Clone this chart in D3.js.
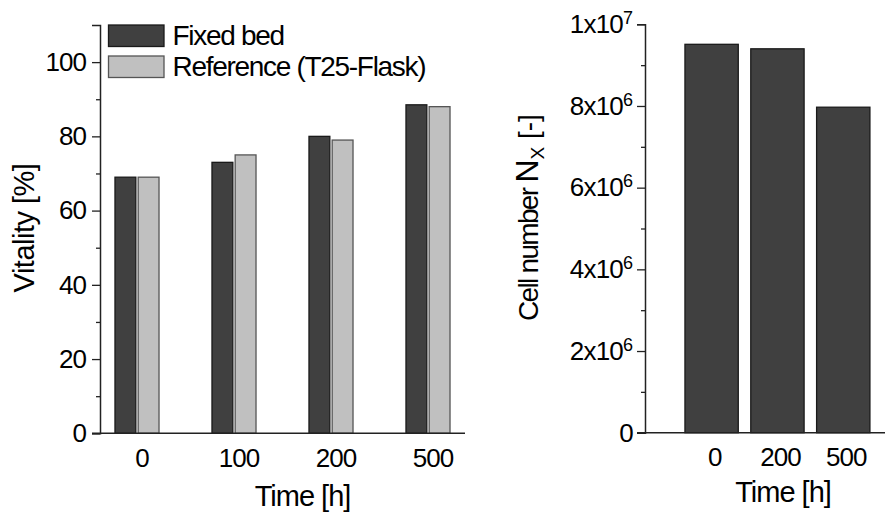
<!DOCTYPE html>
<html><head><meta charset="utf-8">
<script src="https://cdn.jsdelivr.net/npm/d3@7"></script>
<style>
body{margin:0;background:#fff;}
text{font-family:"Liberation Sans",Arial,sans-serif;fill:#000;}
</style></head>
<body>
<svg id="c" width="885" height="516"></svg>
<script>
// ---- data ----
const timeCats = ["0","100","200","500"];
const seriesNames = ["Fixed bed","Reference (T25-Flask)"];
const fixedBed = [69, 73, 80, 88.5];
const reference = [69, 75, 79, 88];
const vitalityTicks = [0,20,40,60,80,100];
const vitalityMinor = [10,30,50,70,90];

const cellCats = ["0","200","500"];
const cellNumber = [9.51e6, 9.40e6, 7.97e6];
const cellTicks = [0,2e6,4e6,6e6,8e6,1e7];
const cellTickLabels = [["0",""],["2x10","6"],["4x10","6"],["6x10","6"],["8x10","6"],["1x10","7"]];
const cellMinor = [1e6,3e6,5e6,7e6,9e6];

const colors = ["#404040","#c0c0c0"];
const strokes = ["#1a1a1a","#555555"];

const svg = d3.select("#c");
const axisColor = "#222";
const FF = "'Liberation Sans',Arial,sans-serif";

// ---- left chart ----
const yL = d3.scaleLinear().domain([0,110]).range([433.3,25]);
const xL = d3.scaleBand().domain(timeCats).range([88.5,476.5]).paddingInner(0.546).paddingOuter(0.273);
const xS = d3.scaleBand().domain(seriesNames).range([0,xL.bandwidth()]).paddingInner(0.1);

const gL = svg.append("g");
const rows = timeCats.map((c,i)=>({cat:c, vals:[fixedBed[i],reference[i]]}));
gL.selectAll("g.grp").data(rows).join("g").attr("transform",d=>`translate(${xL(d.cat)},0)`)
  .selectAll("rect").data(d=>d.vals.map((v,j)=>({v,j}))).join("rect")
  .attr("x",d=>xS(seriesNames[d.j])).attr("width",xS.bandwidth())
  .attr("y",d=>yL(d.v)).attr("height",d=>yL(0)-yL(d.v))
  .attr("fill",d=>colors[d.j]).attr("stroke",d=>strokes[d.j]).attr("stroke-width",1.3);

// y axis
gL.append("g").attr("transform","translate(100,0)")
  .call(d3.axisLeft(yL).tickValues(vitalityTicks).tickSize(8).tickPadding(6));
gL.append("g").attr("transform","translate(100,0)")
  .call(d3.axisLeft(yL).tickValues(vitalityMinor).tickSize(4).tickFormat(""))
  .call(g=>g.select(".domain").remove());
// x axis line
gL.append("line").attr("x1",92).attr("x2",465).attr("y1",yL(0)).attr("y2",yL(0))
  .attr("stroke",axisColor).attr("stroke-width",1.5);
gL.selectAll("text.xl").data(timeCats).join("text").attr("class","xl")
  .attr("x",d=>xL(d)+xL.bandwidth()/2+5).attr("y",467).attr("text-anchor","middle")
  .attr("font-size",26).attr("letter-spacing",-1).text(d=>d);

// legend
seriesNames.forEach((n,i)=>{
  gL.append("rect").attr("x",108.5).attr("y",25+i*31).attr("width",55.5).attr("height",21.5)
    .attr("fill",colors[i]).attr("stroke",strokes[i]).attr("stroke-width",1.3);
  gL.append("text").attr("x",172.5).attr("y",45+i*31).attr("font-size",28).attr("letter-spacing",-1.3).text(n);
});
gL.append("text").attr("x",302.5).attr("y",506).attr("text-anchor","middle").attr("font-size",29)
  .attr("letter-spacing",-1).text("Time [h]");
gL.append("text").attr("transform","translate(34,228) rotate(-90)").attr("text-anchor","middle")
  .attr("font-size",29).attr("letter-spacing",-0.5).text("Vitality [%]");

// ---- right chart ----
const yR = d3.scaleLinear().domain([0,1e7]).range([432.7,24.3]);
const xR = d3.scaleBand().domain(cellCats).range([645,885]).paddingInner(0.19).paddingOuter(0.418).align(0.726);
const gR = svg.append("g");
gR.selectAll("rect").data(cellCats.map((c,i)=>({c,v:cellNumber[i]}))).join("rect")
  .attr("x",d=>xR(d.c)).attr("width",xR.bandwidth())
  .attr("y",d=>yR(d.v)).attr("height",d=>yR(0)-yR(d.v))
  .attr("fill",colors[0]).attr("stroke",strokes[0]).attr("stroke-width",1.3);

const yAxR = gR.append("g").attr("transform","translate(645,0)")
  .call(d3.axisLeft(yR).tickValues(cellTicks).tickSize(8).tickPadding(4));
gR.append("g").attr("transform","translate(645,0)")
  .call(d3.axisLeft(yR).tickValues(cellMinor).tickSize(4).tickFormat(""))
  .call(g=>g.select(".domain").remove());
gR.append("line").attr("x1",637).attr("x2",885).attr("y1",yR(0)).attr("y2",yR(0))
  .attr("stroke",axisColor).attr("stroke-width",1.5);
gR.selectAll("text.xr").data(cellCats).join("text").attr("class","xr")
  .attr("x",d=>xR(d)+xR.bandwidth()/2+3).attr("y",466).attr("text-anchor","middle")
  .attr("font-size",26).attr("letter-spacing",-1).text(d=>d);
gR.append("text").attr("x",783).attr("y",502).attr("text-anchor","middle").attr("font-size",29)
  .attr("letter-spacing",-1).text("Time [h]");
const yt = gR.append("text").attr("transform","translate(538,217.5) rotate(-90)").attr("text-anchor","middle")
  .attr("font-size",28);
yt.append("tspan").attr("letter-spacing","-1.7").text("Cell number ");
yt.append("tspan").attr("font-size",32).text("N");
yt.append("tspan").attr("font-size",19).attr("dy",6).text("X");
yt.append("tspan").attr("dy",-6).text(" [-]");

// style axes
svg.selectAll(".domain").attr("stroke",axisColor).attr("stroke-width",1.5);
svg.selectAll(".tick line").attr("stroke",axisColor).attr("stroke-width",1.3);
svg.selectAll(".tick text").attr("font-size",26).attr("font-family",FF).attr("fill","#000").attr("letter-spacing",-1);
yAxR.selectAll(".tick text").each(function(d,i){
  const t = d3.select(this); t.text("");
  const lab = cellTickLabels[i];
  t.append("tspan").text(lab[0]);
  if(lab[1]) t.append("tspan").attr("dy",-9).attr("font-size",18).attr("letter-spacing",0).text(lab[1]);
}).attr("letter-spacing",-0.8);
</script>
</body></html>
